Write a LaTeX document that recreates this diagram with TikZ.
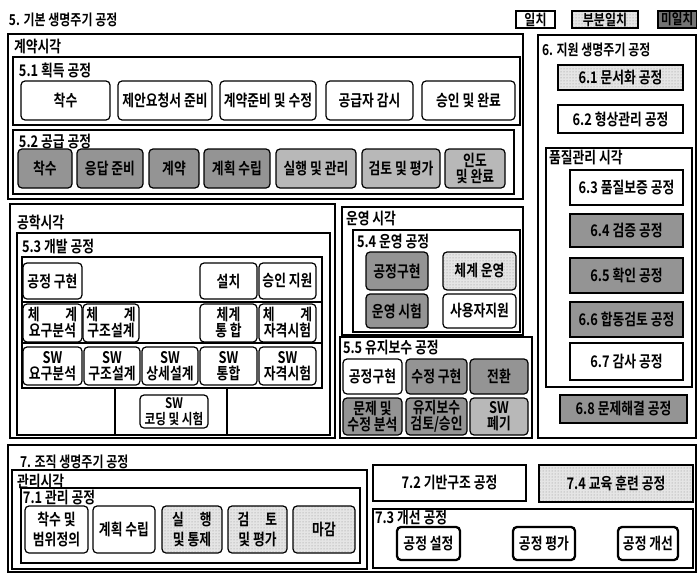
\documentclass[tikz,border=0pt]{standalone}
\usepackage{fontspec}
\setmainfont{Noto Sans CJK KR Bold}[FakeStretch=0.8]
\usetikzlibrary{patterns}
\tikzset{
  base/.style={inner sep=0pt, outer sep=0pt, align=center, font=\fontsize{16}{16}\selectfont},
  frame/.style={base, draw, line width=1.2pt},
  sq/.style={base, draw, line width=1.2pt},
  rb/.style={base, draw, line width=1.2pt, rounded corners=4pt},
  thick3/.style={base, draw, line width=2.3pt, rounded corners=4pt},
  part/.style={preaction={fill=black!10}, pattern=dots, pattern color=black!45},
  dark/.style={fill=black!42},
  darkl/.style={fill=black!28},
  tall/.style={font=\fontsize{16}{20}\selectfont},
  lab/.style={inner sep=0pt, outer sep=0pt, anchor=west, font=\fontsize{16}{16}\selectfont},
  ttl/.style={lab, font=\fontsize{15}{15}\selectfont},
  gridline/.style={line width=1.2pt}
}
\newcommand\pbx[7]{\node[#6, minimum width={(#4-#2)*1pt}, minimum height={(#5-#3)*1pt}] (#1) at ({(#2+#4)/2},{(#3+#5)/2}) {#7};}
\begin{document}
\begin{tikzpicture}[x=1pt,y=-1pt]
\useasboundingbox[fill=white] (0,0) rectangle (697,573);
% title and legend
\node[ttl] (t5) at (9,20) {5. 기본 생명주기 공정};
\pbx{lg1}{516}{11}{555}{28}{sq,font=\fontsize{15}{15}\selectfont}{일치}
\pbx{lg2}{572}{11}{638}{28}{sq,part,font=\fontsize{15}{15}\selectfont}{부분일치}
\pbx{lg3}{658}{11}{696.4}{28}{sq,fill=black!55,font=\fontsize{14.5}{15}\selectfont}{미일치}
% contract view
\pbx{c0}{8}{34}{523}{199}{frame}{}
\node[lab] (c0l) at (14,47) {계약시각};
\pbx{c1}{13}{57}{520}{125}{frame}{}
\node[lab] (c1l) at (19,70) {5.1 획득 공정};
\pbx{a1}{21}{81}{110}{120}{rb}{착수}
\pbx{a2}{118}{81}{212}{120}{rb}{제안요청서 준비}
\pbx{a3}{220}{81}{316}{120}{rb}{계약준비 및 수정}
\pbx{a4}{326}{81}{413}{120}{rb}{공급자 감시}
\pbx{a5}{422}{81}{515}{120}{rb}{승인 및 완료}
\pbx{c2}{13}{130}{514}{194}{frame}{}
\node[lab] (c2l) at (19,141.5) {5.2 공급 공정};
\pbx{b1}{18}{149}{72}{188}{rb,dark}{착수}
\pbx{b2}{77}{149}{143}{188}{rb,dark}{응답 준비}
\pbx{b3}{149}{149}{199}{188}{rb,dark}{계약}
\pbx{b4}{204}{149}{270}{188}{rb,dark}{계획 수립}
\pbx{b5}{276}{149}{356}{188}{rb,darkl}{실행 및 관리}
\pbx{b6}{362}{149}{440}{188}{rb,darkl}{검토 및 평가}
\pbx{b7}{445}{149}{505}{188}{rb,darkl}{인도\\및 완료}
% engineering view
\pbx{e0}{10}{204}{335}{438}{frame}{}
\node[lab] (e0l) at (17,222) {공학시각};
\pbx{e5}{17}{233}{330}{435}{frame}{}
\node[lab] (e5l) at (22,247) {5.3 개발 공정};
\pbx{eg}{22}{257}{322}{388}{frame}{}
\coordinate (s1a) at (22,302); \coordinate (s1b) at (322,302);
\coordinate (s2a) at (22,343); \coordinate (s2b) at (322,343);
\draw[gridline] (s1a) -- (s1b);
\draw[gridline] (s2a) -- (s2b);
\pbx{eb}{115}{388}{227}{435}{frame}{}
\pbx{d1}{23}{263}{82}{299}{rb}{공정 구현}
\pbx{d2}{200}{263}{257}{299}{rb}{설치}
\pbx{d3}{259}{263}{316}{299}{rb}{승인 지원}
\pbx{r1}{23}{304}{82}{342}{rb}{체\hspace{1.6em}계\\요구분석}
\pbx{r2}{83}{304}{139}{342}{rb}{체\hspace{1.6em}계\\구조설계}
\pbx{r3}{200}{304}{257}{342}{rb}{체계\\통 합}
\pbx{r4}{259}{304}{316}{342}{rb}{체\hspace{1.6em}계\\자격시험}
\pbx{f1}{23}{347}{82}{385}{rb}{SW\\요구분석}
\pbx{f2}{84}{347}{140}{385}{rb}{SW\\구조설계}
\pbx{f3}{142}{347}{198}{385}{rb}{SW\\상세설계}
\pbx{f4}{200}{347}{257}{385}{rb}{SW\\통합}
\pbx{f5}{259}{347}{316}{385}{rb}{SW\\자격시험}
\pbx{g1}{140}{395}{208}{428}{rb,font=\fontsize{14.5}{16}\selectfont}{SW\\코딩 및 시험}
% operation view
\pbx{o0}{342}{207}{523}{335}{frame}{}
\node[lab] (o0l) at (346,219) {운영 시각};
\pbx{o4}{353}{230}{520}{332}{frame}{}
\node[lab] (o4l) at (357,242) {5.4 운영 공정};
\pbx{h1}{366}{252}{428}{290}{rb,dark}{공정구현}
\pbx{h2}{443}{252}{516}{290}{rb,part}{체계 운영}
\pbx{h3}{366}{294}{428}{328}{rb,dark}{운영 시험}
\pbx{h4}{443}{294}{516}{328}{rb}{사용자지원}
% maintenance
\pbx{m5}{340}{337}{532}{438}{frame}{}
\node[lab] (m5l) at (343,348) {5.5 유지보수 공정};
\pbx{i1}{343}{359}{402}{394}{rb}{공정구현}
\pbx{i2}{406}{359}{467}{394}{rb,dark}{수정 구현}
\pbx{i3}{470}{359}{528}{394}{rb,dark}{전환}
\pbx{i4}{343}{398}{402}{435}{rb,dark}{문제 및\\수정 분석}
\pbx{i5}{406}{398}{467}{435}{rb,dark}{유지보수\\검토/승인}
\pbx{i6}{470}{398}{528}{435}{rb,darkl}{SW\\폐기}
% support processes
\pbx{s0}{538}{35}{696}{438}{frame}{}
\node[ttl] (s0l) at (542,50) {6. 지원 생명주기 공정};
\pbx{j1}{558}{65}{683}{90}{sq,part}{6.1 문서화 공정}
\pbx{j2}{558}{105}{683}{133}{sq}{6.2 형상관리 공정}
\pbx{q0}{546}{148}{692}{387}{frame}{}
\node[lab] (q0l) at (549,158) {품질관리 시각};
\pbx{j3}{570}{170}{683}{205}{sq}{6.3 품질보증 공정}
\pbx{j4}{570}{214}{683}{247}{sq,dark}{6.4 검증 공정}
\pbx{j5}{570}{258}{683}{293}{sq,dark}{6.5 확인 공정}
\pbx{j6}{570}{302}{683}{337}{sq,dark}{6.6 합동검토 공정}
\pbx{j7}{570}{343}{683}{380}{sq}{6.7 감사 공정}
\pbx{j8}{560}{395}{687}{423}{sq,dark}{6.8 문제해결 공정}
% organizational processes
\pbx{z0}{8}{445}{696}{572}{frame}{}
\node[ttl] (z0l) at (20,462) {7. 조직 생명주기 공정};
\pbx{v0}{12}{470}{367}{569}{frame}{}
\node[lab] (v0l) at (17,482) {관리시각};
\pbx{v1}{21}{488}{360}{563}{frame}{}
\node[lab] (v1l) at (23,498) {7.1 관리 공정};
\pbx{k1}{25}{506}{88}{553}{rb,tall}{착수 및\\범위정의}
\pbx{k2}{93}{506}{155}{553}{rb}{계획 수립}
\pbx{k3}{162}{506}{222}{553}{rb,part,tall}{실\hspace{1em}행\\및 통제}
\pbx{k4}{228}{506}{287}{553}{rb,part,tall}{검\hspace{1em}토\\및 평가}
\pbx{k5}{293}{506}{355}{553}{rb,part}{마감}
\pbx{l1}{373}{465}{526}{501}{sq}{7.2 기반구조 공정}
\pbx{l2}{539}{465}{693}{502}{sq,part}{7.4 교육 훈련 공정}
\pbx{w0}{373}{509}{693}{568}{frame}{}
\node[lab] (w0l) at (375,518) {7.3 개선 공정};
\pbx{n1}{397}{527}{460}{560}{thick3,fill=white}{공정 설정}
\pbx{n2}{513}{527}{575}{560}{thick3,fill=white}{공정 평가}
\pbx{n3}{618}{527}{678}{560}{thick3,fill=white}{공정 개선}
\end{tikzpicture}
\end{document}
